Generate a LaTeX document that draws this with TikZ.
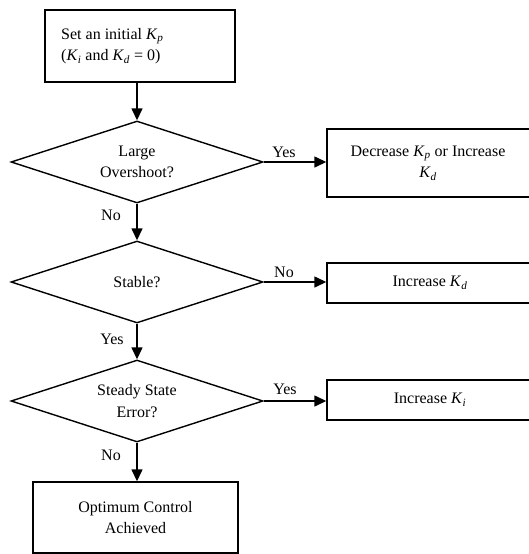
\documentclass[tikz,border=0pt]{standalone}
\usepackage{fontspec}
\setmainfont{Liberation Serif}
\usetikzlibrary{shapes.geometric,arrows.meta}
\newcommand{\Kx}[1]{\textit{K}\textsubscript{\textit{#1}}}
\begin{document}
\begin{tikzpicture}[x=1pt,y=-1pt,
  every node/.style={font=\fontsize{16}{21.5}\selectfont},
  boxnode/.style={draw,line width=1.4pt,rectangle,inner sep=0pt,align=center},
  decnode/.style={draw,line width=1.4pt,diamond,aspect=3,inner sep=0pt,minimum width=252pt,minimum height=82pt,align=center},
  flow/.style={line width=1.4pt,-{Triangle[length=12pt,width=11pt]}},
  lbl/.style={inner sep=0pt}]
\useasboundingbox (0,0) rectangle (529,554);
\node[boxnode,minimum width=190pt,minimum height=72pt] (start) at (140,46) {};
\node[anchor=west,align=left,inner sep=0pt] (starttxt) at (61,46) {Set an initial \Kx{p}\\(\Kx{i} and \Kx{d} = 0)};
\node[decnode] (d1) at (137,162) {Large\\Overshoot?};
\node[decnode] (d2) at (137,282) {Stable?};
\node[decnode] (d3) at (137,401) {Steady State\\Error?};
\node[boxnode,minimum width=204pt,minimum height=68pt] (b1) at (429,163) {};
\node[align=center,inner sep=0pt] (b1txt) at (428,163) {Decrease \Kx{p} or Increase\\\Kx{d}};
\node[boxnode,minimum width=204pt,minimum height=40pt] (b2) at (429,283) {};
\node (b2txt) at (430,283) {Increase \Kx{d}};
\node[boxnode,minimum width=204pt,minimum height=40pt] (b3) at (429,400) {};
\node (b3txt) at (430,400) {Increase \Kx{i}};
\node[boxnode,minimum width=205pt,minimum height=71pt] (end) at (135.5,517.5) {Optimum Control\\Achieved};
\draw[flow] (start.south -| d1.north) -- (d1.north);
\draw[flow] (d1.south) -- (d2.north);
\draw[flow] (d2.south) -- (d3.north);
\draw[flow] (d3.south) -- (d3.south |- end.north);
\draw[flow] (d1.east) -- (d1.east -| b1.west);
\draw[flow] (d2.east) -- (d2.east -| b2.west);
\draw[flow] (d3.east) -- (d3.east -| b3.west);
\node[lbl] (y1) at (284,152) {Yes};
\node[lbl] (n1) at (111,215) {No};
\node[lbl] (n2) at (284,272) {No};
\node[lbl] (y2) at (112,339) {Yes};
\node[lbl] (y3) at (285,389) {Yes};
\node[lbl] (n3) at (111,455) {No};
\end{tikzpicture}
\end{document}
